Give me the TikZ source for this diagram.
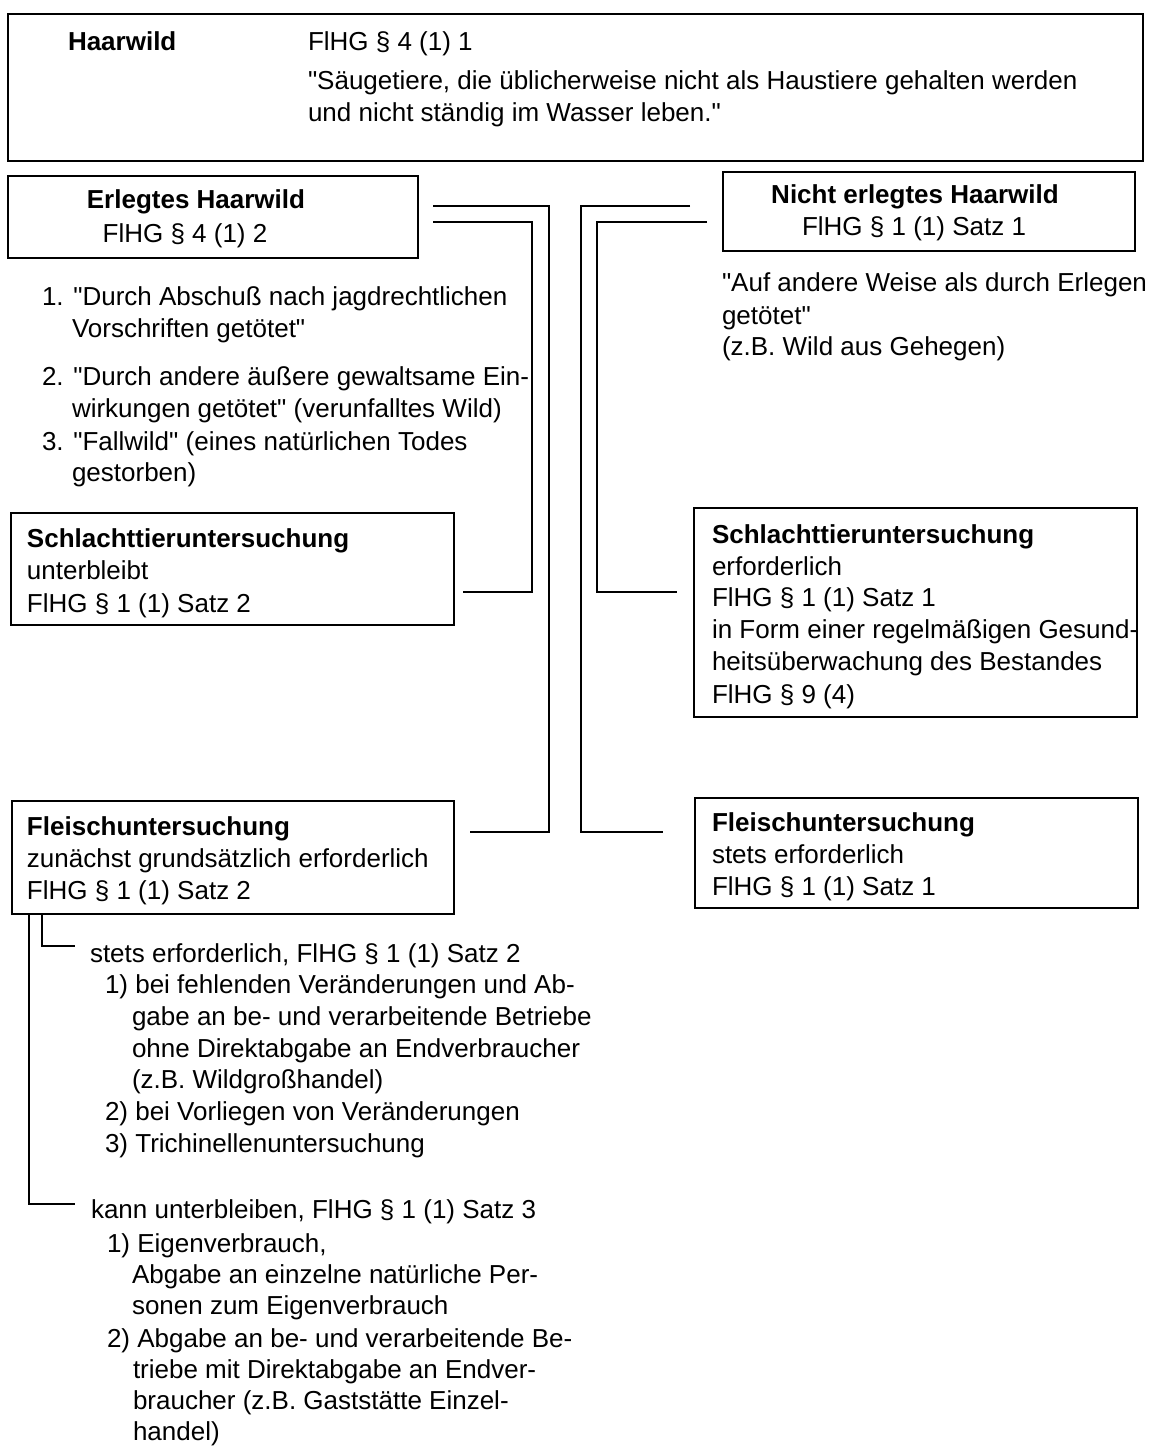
\documentclass[tikz,border=0pt]{standalone}
\usepackage{fontspec}
\setmainfont{Liberation Sans}[Ligatures=TeXOff]
\usetikzlibrary{calc}
\begin{document}
\begin{tikzpicture}[x=1pt,y=-1pt,
  box/.style={draw, line width=2.2pt, rectangle, anchor=north west, inner sep=0pt, outer sep=0pt},
  txt/.style={anchor=base west, inner sep=0pt, outer sep=0pt, font=\fontsize{26}{32}\selectfont},
  btxt/.style={txt, font=\fontsize{26}{32}\selectfont\bfseries},
  link/.style={line width=2.4pt}]
\fill[white] (0,0) rectangle (1153,1446);
\path[use as bounding box] (0,0) rectangle (1153,1446);

% boxes
\node[box, minimum width=1135, minimum height=147] (haar) at (8,14) {};
\node[box, minimum width=410, minimum height=82] (erl) at (8,176) {};
\node[box, minimum width=412, minimum height=79] (nerl) at (723,172) {};
\node[box, minimum width=443, minimum height=112] (schl) at (11,513) {};
\node[box, minimum width=443, minimum height=209] (schr) at (694,508) {};
\node[box, minimum width=442, minimum height=113] (fl) at (12,801) {};
\node[box, minimum width=443, minimum height=110] (fr) at (695,798) {};

% top box text
\node[btxt] (h1) at (68,50) {Haarwild};
\node[txt] (h2) at (308,50) {FlHG § 4 (1) 1};
\node[txt] (h3) at (308,89) {"Säugetiere, die üblicherweise nicht als Haustiere gehalten werden};
\node[txt] (h4) at (308,121) {und nicht ständig im Wasser leben."};

% erlegtes
\node[btxt, anchor=base] (e1) at (196,208) {Erlegtes Haarwild};
\node[txt, anchor=base] (e2) at (185,242) {FlHG § 4 (1) 2};
\node[txt] (l1) at (42,305) {1. "Durch Abschuß nach jagdrechtlichen};
\node[txt] (l2) at (72,337) {Vorschriften getötet"};
\node[txt] (l3) at (42,385) {2. "Durch andere äußere gewaltsame Ein-};
\node[txt] (l4) at (72,417) {wirkungen getötet" (verunfalltes Wild)};
\node[txt] (l5) at (42,450) {3. "Fallwild" (eines natürlichen Todes};
\node[txt] (l6) at (72,481) {gestorben)};

% nicht erlegtes
\node[btxt, anchor=base] (n1) at (915,203) {Nicht erlegtes Haarwild};
\node[txt, anchor=base] (n2) at (914,235) {FlHG § 1 (1) Satz 1};
\node[txt] (r1) at (722,291) {"Auf andere Weise als durch Erlegen};
\node[txt] (r2) at (722,324) {getötet"};
\node[txt] (r3) at (722,355) {(z.B. Wild aus Gehegen)};

% Schlachttier left
\node[btxt] (sl1) at (27,547) {Schlachttieruntersuchung};
\node[txt] (sl2) at (27,579) {unterbleibt};
\node[txt] (sl3) at (27,612) {FlHG § 1 (1) Satz 2};

% Schlachttier right
\node[btxt] (sr1) at (712,543) {Schlachttieruntersuchung};
\node[txt] (sr2) at (712,575) {erforderlich};
\node[txt] (sr3) at (712,606) {FlHG § 1 (1) Satz 1};
\node[txt] (sr4) at (712,638) {in Form einer regelmäßigen Gesund-};
\node[txt] (sr5) at (712,670) {heitsüberwachung des Bestandes};
\node[txt] (sr6) at (712,703) {FlHG § 9 (4)};

% Fleisch left
\node[btxt] (fl1) at (27,835) {Fleischuntersuchung};
\node[txt] (fl2) at (27,867) {zunächst grundsätzlich erforderlich};
\node[txt] (fl3) at (27,899) {FlHG § 1 (1) Satz 2};

% Fleisch right
\node[btxt] (fr1) at (712,831) {Fleischuntersuchung};
\node[txt] (fr2) at (712,863) {stets erforderlich};
\node[txt] (fr3) at (712,895) {FlHG § 1 (1) Satz 1};

% bottom lists
\node[txt] (s0) at (90,962) {stets erforderlich, FlHG § 1 (1) Satz 2};
\node[txt] (s1) at (105,993) {1) bei fehlenden Veränderungen und Ab-};
\node[txt] (s2) at (132,1025) {gabe an be- und verarbeitende Betriebe};
\node[txt] (s3) at (132,1057) {ohne Direktabgabe an Endverbraucher};
\node[txt] (s4) at (132,1088) {(z.B. Wildgroßhandel)};
\node[txt] (s5) at (105,1120) {2) bei Vorliegen von Veränderungen};
\node[txt] (s6) at (105,1152) {3) Trichinellenuntersuchung};

\node[txt] (k0) at (91,1218) {kann unterbleiben, FlHG § 1 (1) Satz 3};
\node[txt] (k1) at (107,1252) {1) Eigenverbrauch,};
\node[txt] (k2) at (132,1283) {Abgabe an einzelne natürliche Per-};
\node[txt] (k3) at (132,1314) {sonen zum Eigenverbrauch};
\node[txt] (k4) at (107,1347) {2) Abgabe an be- und verarbeitende Be-};
\node[txt] (k5) at (133,1378) {triebe mit Direktabgabe an Endver-};
\node[txt] (k6) at (133,1409) {braucher (z.B. Gaststätte Einzel-};
\node[txt] (k7) at (133,1440) {handel)};

% connectors
\draw[link] ($(erl.north east)+(15,30)$) -- ++(116,0) |- ($(fl.north east)+(16,31)$);
\draw[link] ($(erl.north east)+(15,46)$) -- ++(99,0) |- ($(schl.north east)+(9,79)$);
\draw[link] ($(nerl.north west)+(-33,34)$) -- ++(-109,0) |- ($(fr.north west)+(-32,34)$);
\draw[link] ($(nerl.north west)+(-16,50)$) -- ++(-110,0) |- ($(schr.north west)+(-17,84)$);
\draw[link] ($(fl.south west)+(30,0)$) |- ($(s0.base west)+(-15,-16)$);
\draw[link] ($(fl.south west)+(17,0)$) |- ($(k0.base west)+(-16,-14)$);
\end{tikzpicture}
\end{document}
